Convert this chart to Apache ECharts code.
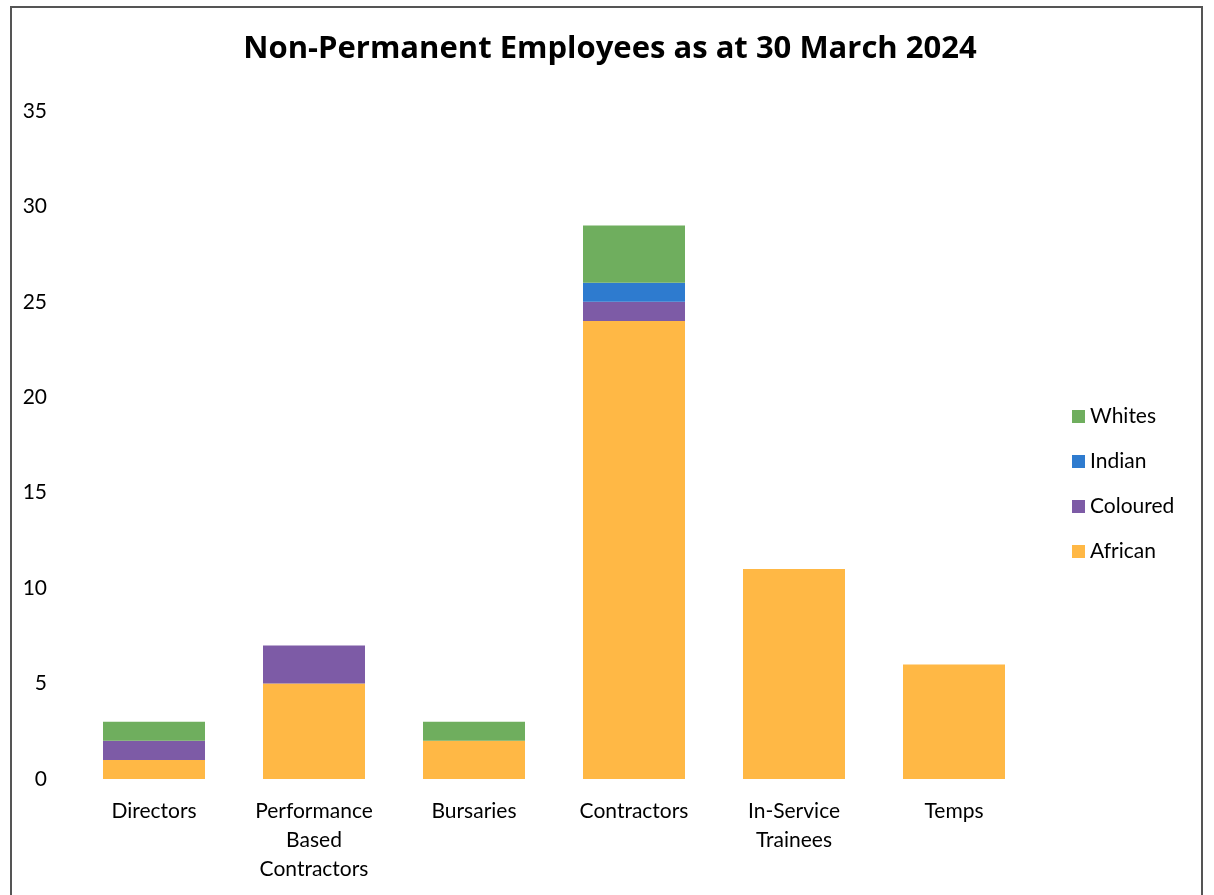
<!DOCTYPE html>
<html>
<head>
<meta charset="utf-8">
<script src="https://cdn.jsdelivr.net/npm/echarts@6/dist/echarts.min.js"></script>
<style>
  html, body { margin: 0; padding: 0; background: #fff; }
  #frame { position: absolute; left: 10px; top: 6px; width: 1193px; height: 900px; border: 2px solid #555; border-bottom: none; box-sizing: border-box; }
  #chart { position: absolute; left: 0; top: 0; width: 1214px; height: 895px; }
</style>
</head>
<body>
<div id="frame"></div>
<div id="chart"></div>
<script>
// Non-permanent staff by category, split by population group
const categories = ['Directors', 'Performance\nBased\nContractors', 'Bursaries', 'Contractors', 'In-Service\nTrainees', 'Temps'];
const african  = [1, 5, 2, 24, 11, 6];
const coloured = [1, 2, 0, 1, 0, 0];
const indian   = [0, 0, 0, 1, 0, 0];
const whites   = [1, 0, 1, 3, 0, 0];

const FONT = 'Lato, "Open Sans", sans-serif';

const chart = echarts.init(document.getElementById('chart'));

function bar(name, data, color) {
  return {
    name, type: 'bar', stack: 'total', data,
    barWidth: 102,
    itemStyle: { color },
    emphasis: { disabled: true }
  };
}

chart.setOption({
  animation: false,
  title: {
    text: 'Non-Permanent Employees as at 30 March 2024',
    left: 605, top: 29, textAlign: 'center',
    textStyle: { fontFamily: '"Open Sans", Lato, sans-serif', fontWeight: 'bold', fontSize: 31, color: '#000' }
  },
  legend: {
    orient: 'vertical',
    left: 1067, top: 401,
    itemWidth: 13, itemHeight: 13, itemGap: 24,
    icon: 'rect',
    data: ['Whites', 'Indian', 'Coloured', 'African'],
    textStyle: { fontFamily: FONT, fontSize: 21, color: '#000' }
  },
  grid: { left: 74, right: 180, top: 111, bottom: 116 },
  xAxis: {
    type: 'category',
    data: categories,
    axisLine: { show: false },
    axisTick: { show: false },
    axisLabel: {
      interval: 0, margin: 18,
      fontFamily: FONT, fontSize: 21, color: '#000', lineHeight: 29
    }
  },
  yAxis: {
    type: 'value',
    min: 0, max: 35, interval: 5,
    splitLine: { show: false },
    axisLine: { show: false },
    axisTick: { show: false },
    axisLabel: { fontFamily: FONT, fontSize: 21, color: '#000', margin: 27 }
  },
  series: [
    bar('African', african, '#FFB845'),
    bar('Coloured', coloured, '#7D5BA6'),
    bar('Indian', indian, '#2E7BCF'),
    bar('Whites', whites, '#6FAE5E')
  ]
});
</script>
</body>
</html>
